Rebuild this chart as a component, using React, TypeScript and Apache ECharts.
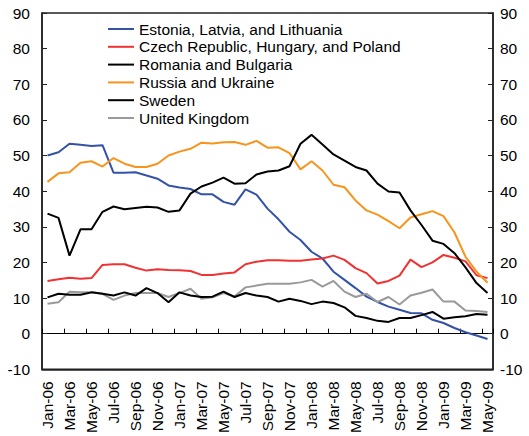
import React, { useEffect, useRef } from "react";
import * as echarts from "echarts";

const months = [
  "Jan-06", "Feb-06", "Mar-06", "Apr-06", "May-06", "Jun-06", "Jul-06", "Aug-06", "Sep-06", "Oct-06", "Nov-06", "Dec-06",
  "Jan-07", "Feb-07", "Mar-07", "Apr-07", "May-07", "Jun-07", "Jul-07", "Aug-07", "Sep-07", "Oct-07", "Nov-07", "Dec-07",
  "Jan-08", "Feb-08", "Mar-08", "Apr-08", "May-08", "Jun-08", "Jul-08", "Aug-08", "Sep-08", "Oct-08", "Nov-08", "Dec-08",
  "Jan-09", "Feb-09", "Mar-09", "Apr-09", "May-09",
];

const baltics = [50.0, 50.9, 53.3, 53.0, 52.7, 52.9, 45.2, 45.2, 45.3, 44.4, 43.5, 41.6, 41.0, 40.6, 39.1, 39.1, 37.0, 36.2, 40.5, 39.0, 35.1, 32.1, 28.6, 26.3, 23.0, 21.1, 17.4, 15.1, 12.8, 10.4, 8.9, 7.6, 6.7, 5.8, 5.7, 3.9, 3.0, 1.6, 0.4, -0.5, -1.5];
const czechHunPol = [14.8, 15.3, 15.7, 15.4, 15.6, 19.3, 19.5, 19.5, 18.5, 17.7, 18.1, 17.9, 17.8, 17.6, 16.5, 16.5, 16.9, 17.2, 19.5, 20.2, 20.6, 20.6, 20.5, 20.5, 20.8, 21.1, 21.9, 20.7, 18.4, 17.0, 14.1, 14.8, 16.3, 20.8, 18.7, 20.0, 22.1, 21.3, 20.3, 16.4, 15.6];
const romBul = [33.7, 32.5, 21.9, 29.3, 29.3, 34.2, 35.7, 34.9, 35.3, 35.6, 35.4, 34.2, 34.6, 39.3, 41.3, 42.4, 43.8, 42.1, 42.2, 44.7, 45.5, 45.8, 47.0, 53.3, 55.8, 53.1, 50.3, 48.6, 46.8, 45.8, 42.1, 39.9, 39.6, 34.6, 30.5, 26.1, 25.2, 22.6, 18.6, 14.2, 11.4];
const rusUkr = [42.6, 45.0, 45.3, 48.0, 48.4, 46.9, 49.3, 47.7, 46.8, 46.8, 47.7, 50.0, 51.1, 51.9, 53.6, 53.4, 53.7, 53.8, 53.0, 54.1, 52.2, 52.3, 50.7, 46.1, 48.4, 45.8, 41.8, 41.1, 37.4, 34.6, 33.4, 31.6, 29.6, 32.6, 33.5, 34.4, 33.0, 28.4, 21.6, 17.4, 14.3];
const sweden = [10.2, 11.2, 10.9, 10.9, 11.6, 11.2, 10.7, 11.6, 10.7, 12.8, 11.4, 8.8, 11.6, 10.7, 10.3, 10.4, 11.8, 10.3, 11.4, 10.7, 10.3, 9.0, 9.8, 9.2, 8.3, 9.0, 8.6, 7.4, 5.0, 4.4, 3.6, 3.3, 4.4, 4.4, 5.2, 6.1, 4.2, 4.6, 4.9, 5.5, 5.3];
const uk = [8.4, 8.8, 11.8, 11.6, 11.6, 11.2, 9.5, 10.7, 11.4, 11.4, 11.4, 10.3, 11.4, 12.6, 9.8, 10.2, 11.4, 10.4, 13.0, 13.5, 14.0, 14.0, 14.0, 14.4, 15.1, 13.2, 14.8, 11.8, 10.3, 11.2, 8.9, 10.3, 8.2, 10.7, 11.5, 12.4, 9.0, 9.0, 6.5, 6.4, 6.1];

const seriesNames = [
  "Estonia, Latvia, and Lithuania",
  "Czech Republic, Hungary, and Poland",
  "Romania and Bulgaria",
  "Russia and Ukraine",
  "Sweden",
  "United Kingdom",
];
const seriesData = [baltics, czechHunPol, romBul, rusUkr, sweden, uk];
const seriesColors = ["#3352A8", "#F03232", "#000000", "#F7941D", "#000000", "#9A9A9A"];

const yMin = -10;
const yMax = 90;
const yStep = 10;

const FONT = "Arial, 'Liberation Sans', sans-serif";
const FS = 15.5;

export default function App() {
  const ref = useRef<HTMLDivElement>(null);
  useEffect(() => {
    if (!ref.current) return;
    const chart = echarts.init(ref.current, undefined, { renderer: "svg" });
    const yAxisBase = {
      type: "value",
      min: yMin,
      max: yMax,
      interval: yStep,
      splitLine: { show: false },
      axisLine: { show: true, lineStyle: { color: "#222", width: 1.5 } },
      axisTick: { show: true, inside: true, length: 5, lineStyle: { color: "#222", width: 1 } },
    };
    chart.setOption({
      animation: false,
      backgroundColor: "#fff",
      grid: {
        left: 42,
        right: 36,
        top: 13,
        bottom: 65,
        show: true,
        borderColor: "#222",
        borderWidth: 1.5,
        backgroundColor: "transparent",
      },
      legend: {
        orient: "vertical",
        left: 108,
        top: 21,
        padding: 0,
        itemWidth: 26,
        itemHeight: 14,
        itemGap: 1.8,
        icon: "path://M0,0H26V2H0Z",
        data: seriesNames,
        textStyle: { fontFamily: FONT, fontSize: FS, lineHeight: 14, color: "#000" },
      },
      xAxis: [
        {
          type: "category",
          data: months,
          position: "bottom",
          boundaryGap: true,
          axisLine: { show: true, onZero: true, lineStyle: { color: "#000", width: 1.2 } },
          axisTick: { show: true, inside: true, interval: 1, length: 5, lineStyle: { color: "#000", width: 1 } },
          axisLabel: { show: false },
          splitLine: { show: false },
        },
        {
          type: "category",
          data: months,
          position: "bottom",
          boundaryGap: true,
          axisLine: { show: true, onZero: false, lineStyle: { color: "#222", width: 1.5 } },
          axisTick: { show: false },
          axisLabel: {
            show: true,
            interval: 1,
            rotate: 90,
            margin: 12,
            fontFamily: FONT,
            fontSize: FS,
            color: "#000",
          },
          splitLine: { show: false },
        },
      ],
      yAxis: [
        {
          ...yAxisBase,
          position: "left",
          axisLabel: { margin: 12, fontFamily: FONT, fontSize: FS, color: "#000" },
        },
        {
          ...yAxisBase,
          position: "right",
          axisLabel: { margin: 7, fontFamily: FONT, fontSize: FS, color: "#000" },
        },
      ],
      series: seriesNames.map((name, i) => ({
        name,
        type: "line",
        xAxisIndex: 0,
        yAxisIndex: 0,
        data: seriesData[i],
        symbol: "none",
        showSymbol: false,
        color: seriesColors[i],
        lineStyle: { color: seriesColors[i], width: 2 },
        z: i === 2 || i === 4 ? 3 : 2,
      })),
    });
    return () => chart.dispose();
  }, []);
  return (
    <div
      ref={ref}
      style={{ position: "fixed", left: 0, top: 0, width: 529, height: 436, background: "#fff" }}
    />
  );
}
